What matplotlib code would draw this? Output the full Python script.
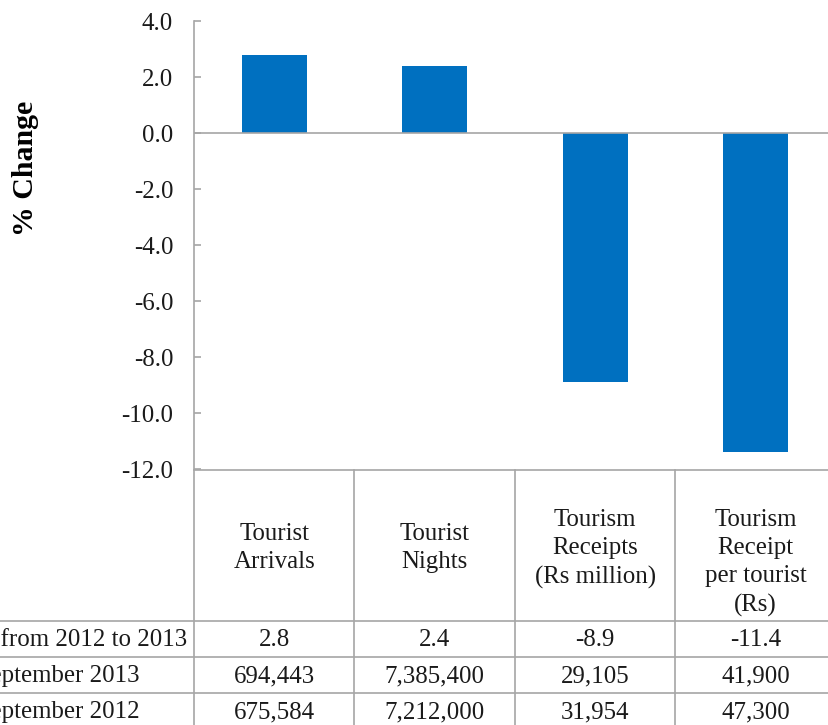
import matplotlib
matplotlib.use('Agg')
import matplotlib.pyplot as plt

categories = ["Tourist\nArrivals", "Tourist\nNights",
              "Tourism\nReceipts\n(Rs million)", "Tourism\nReceipt\nper tourist\n(Rs)"]
pct_change = [2.8, 2.4, -8.9, -11.4]
row_labels = ["% Change from 2012 to 2013", "January-September 2013", "January-September 2012"]
pct_text = ["2.8", "2.4", "-8.9", "-11.4"]
values_2013 = ["694,443", "7,385,400", "29,105", "41,900"]
values_2012 = ["675,584", "7,212,000", "31,954", "47,300"]
yticks = [4.0, 2.0, 0.0, -2.0, -4.0, -6.0, -8.0, -10.0, -12.0]

plt.rcParams['font.family'] = ['Liberation Serif', 'DejaVu Serif']

W, H = 829, 725
GRAY = '#a6a6a6'
BLUE = '#0070C0'
TXT = '#1a1a1a'
FS = 17.9

fig = plt.figure(figsize=(W / 100, H / 100), dpi=100)
ax_l, ax_r, ax_t, ax_b = 194, 836, 21, 469
ax = fig.add_axes([ax_l / W, 1 - ax_b / H, (ax_r - ax_l) / W, (ax_b - ax_t) / H])
xs = list(range(len(pct_change)))
ax.bar(xs, pct_change, width=0.405, color=BLUE, zorder=2)
ax.set_xlim(-0.5, len(pct_change) - 0.5)
ax.set_ylim(-12, 4)
ax.axhline(0, color=GRAY, lw=1.2, zorder=3)
for s in ['top', 'right', 'bottom']:
    ax.spines[s].set_visible(False)
ax.spines['left'].set_color(GRAY)
ax.spines['left'].set_linewidth(1.2)
ax.set_xticks([])
ax.set_yticks(yticks)
ax.set_yticklabels([f"{v:.1f}" for v in yticks])
ax.tick_params(axis='y', direction='in', length=5, width=1.2, color=GRAY,
               labelsize=FS, pad=15, labelcolor=TXT)
ax.patch.set_alpha(0)

fig.text(26 / W, 1 - 168 / H, '% Change', rotation=90, fontweight='bold',
         fontsize=21.5, ha='center', va='center')

# data table below the chart (pixel coordinates overlay)
tax = fig.add_axes([0, 0, 1, 1])
tax.set_xlim(0, W)
tax.set_ylim(H, 0)
tax.axis('off')
tax.patch.set_alpha(0)

n = len(categories)
colw = (ax_r - ax_l) / n
bounds = [ax_l + i * colw for i in range(n + 1)]
top, hdr_bot, r1, r2, r3 = 470, 621, 657, 693, 729
lk = dict(color=GRAY, lw=1.2)
tax.plot([ax_l, ax_r], [top, top], **lk)
for b in bounds:
    tax.plot([b, b], [top, r3], **lk)
for yy in [hdr_bot, r1, r2]:
    tax.plot([0, ax_r], [yy, yy], **lk)

hdr_centers = [548, 548, 549, 563]
for i, c in enumerate(categories):
    cx = ax_l + (i + 0.5) * colw
    tax.text(cx, hdr_centers[i], c, ha='center', va='center', fontsize=FS,
             linespacing=1.36, color=TXT)

# left-aligned row labels, starting left of the visible canvas
renderer = fig.canvas.get_renderer()
probe_full = tax.text(0, 0, row_labels[0], fontsize=FS)
probe_tail = tax.text(0, 0, "from 2012 to 2013", fontsize=FS)
w_full = probe_full.get_window_extent(renderer).width
w_tail = probe_tail.get_window_extent(renderer).width
probe_full.remove()
probe_tail.remove()
x0 = -(w_full - w_tail)

rows = [pct_text, values_2013, values_2012]
row_centers = [(hdr_bot + r1) / 2 + 1, (r1 + r2) / 2 + 1, (r2 + r3) / 2 + 1]
for lab, vals, yc in zip(row_labels, rows, row_centers):
    tax.text(x0, yc, lab, ha='left', va='center', fontsize=FS, color=TXT)
    for i, v in enumerate(vals):
        cx = ax_l + (i + 0.5) * colw
        tax.text(cx, yc, v, ha='center', va='center', fontsize=FS, color=TXT)

fig.savefig('out.png', dpi=100)
